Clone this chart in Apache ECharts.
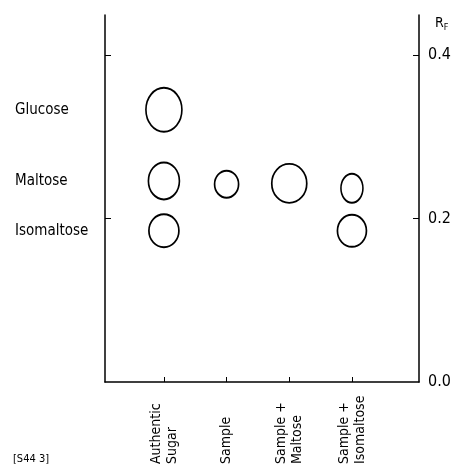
<!DOCTYPE html>
<html>
<head>
<meta charset="utf-8">
<script src="https://cdn.jsdelivr.net/npm/echarts@6/dist/echarts.min.js"></script>
<style>
  html, body { margin: 0; padding: 0; background: #fff; }
  #chart { width: 451px; height: 471px; }
</style>
</head>
<body>
<div id="chart"></div>
<script>
// TLC lanes (x positions 1..4) and the spots found in each lane
const lanes = ['Authentic\nSugar', 'Sample', 'Sample +\nMaltose', 'Sample +\nIsomaltose'];
const sugars = ['Glucose', 'Maltose', 'Isomaltose'];

// R_F value of each spot per lane (null = no spot)
const glucoseRf    = [0.333, null,  null,  null];
const maltoseRf    = [0.246, 0.242, 0.243, 0.237];
const isomaltoseRf = [0.185, null,  null,  0.185];

// right-hand R_F scale
const rfTicks = [0.0, 0.2, 0.4];

// drawn spot outlines [width, height] in px
const glucoseSpot    = [[36, 44], null, null, null];
const maltoseSpot    = [[31, 37], [24, 27], [35, 39], [22, 29]];
const isomaltoseSpot = [[30, 33], null, null, [29, 32]];

const FONT = '"DejaVu Sans Condensed", "Liberation Sans Narrow", "Roboto", sans-serif';
const INK = '#000';

function spotData(rf, sizes) {
  const out = [];
  rf.forEach((v, i) => {
    if (v !== null) out.push({ value: [i + 1, v], symbolSize: sizes[i] });
  });
  return out;
}

function spotSeries(name, rf, sizes) {
  return {
    name: name,
    type: 'scatter',
    xAxisIndex: 0,
    yAxisIndex: 1,
    symbol: 'circle',
    data: spotData(rf, sizes),
    itemStyle: { color: 'rgba(255,255,255,0)', borderColor: INK, borderWidth: 1.8, opacity: 1 },
    emphasis: { disabled: true },
    silent: true,
    z: 5
  };
}

// the authentic-sugar lane places each name on the left
const sugarRf = [glucoseRf[0], maltoseRf[0], isomaltoseRf[0]];

const chart = echarts.init(document.getElementById('chart'), null, { renderer: 'canvas' });

const axisLineStyle = { color: INK, width: 1.5 };
const yMax = 0.449;

chart.setOption({
  animation: false,
  backgroundColor: '#fff',
  textStyle: { fontFamily: FONT, color: INK },
  grid: { left: 105, right: 32, top: 15, bottom: 89, containLabel: false, outerBoundsMode: 'none' },
  xAxis: {
    type: 'value',
    min: 0.06,
    max: 5.07,
    splitLine: { show: false },
    axisLine: { show: true, onZero: false, lineStyle: axisLineStyle },
    axisTick: { show: true, inside: true, length: 5, customValues: [1, 2, 3, 4], lineStyle: { color: INK, width: 1 } },
    axisLabel: {
      customValues: [1, 2, 3, 4],
      formatter: v => lanes[Math.round(v) - 1] || '',
      rotate: 90,
      align: 'left',
      verticalAlign: 'middle',
      margin: 82,
      fontFamily: FONT,
      fontSize: 14,
      lineHeight: 16,
      color: INK
    }
  },
  yAxis: [
    {
      // left edge of the plate with the sugar names
      type: 'value',
      position: 'left',
      min: 0,
      max: yMax,
      splitLine: { show: false },
      axisLine: { show: true, onZero: false, lineStyle: axisLineStyle },
      axisTick: { show: true, inside: true, length: 6, customValues: [0.2, 0.4], lineStyle: { color: INK, width: 1 } },
      axisLabel: {
        customValues: sugarRf,
        formatter: v => {
          let best = 0;
          sugarRf.forEach((r, i) => { if (Math.abs(r - v) < Math.abs(sugarRf[best] - v)) best = i; });
          return sugars[best];
        },
        align: 'left',
        margin: 90,
        fontFamily: FONT,
        fontSize: 15,
        color: INK
      }
    },
    {
      // R_F scale on the right
      type: 'value',
      position: 'right',
      min: 0,
      max: yMax,
      splitLine: { show: false },
      axisLine: { show: true, onZero: false, lineStyle: axisLineStyle },
      axisTick: { show: true, inside: true, length: 6, customValues: [0.2, 0.4], lineStyle: { color: INK, width: 1 } },
      axisLabel: {
        customValues: rfTicks,
        formatter: v => v.toFixed(1),
        margin: 9,
        fontFamily: FONT,
        fontSize: 16,
        color: INK
      }
    }
  ],
  graphic: [
    {
      // axis title R_F beside the top of the right scale
      type: 'text',
      left: 435,
      top: 16,
      style: {
        text: '{r|R}{f|F}',
        rich: {
          r: { fontFamily: FONT, fontSize: 14, fill: INK },
          f: { fontFamily: FONT, fontSize: 9, fill: INK, padding: [9, 0, 0, 0] }
        }
      }
    },
    {
      type: 'text',
      left: 13,
      top: 454,
      style: { text: '[S44 3]', fontFamily: FONT, fontSize: 11, fill: INK }
    }
  ],
  series: [
    spotSeries('Glucose', glucoseRf, glucoseSpot),
    spotSeries('Maltose', maltoseRf, maltoseSpot),
    spotSeries('Isomaltose', isomaltoseRf, isomaltoseSpot)
  ]
});
</script>
</body>
</html>
